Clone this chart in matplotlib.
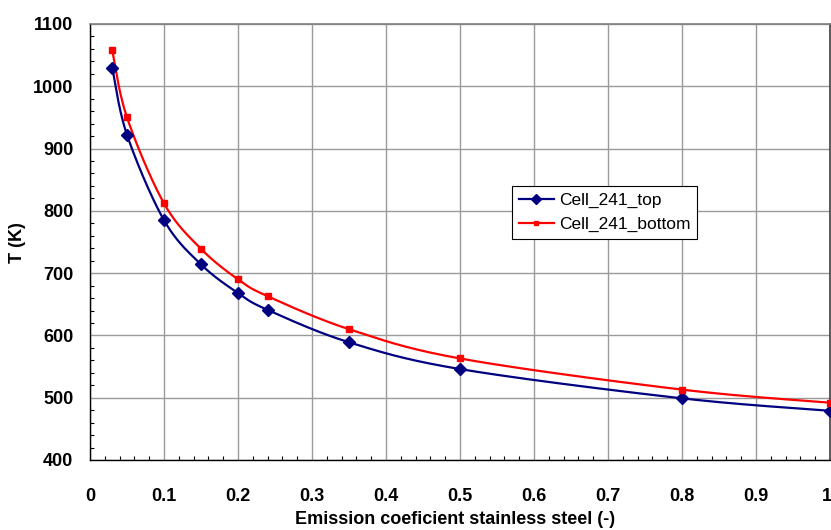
import numpy as np
import matplotlib
matplotlib.use("Agg")
import matplotlib.pyplot as plt
from matplotlib.ticker import MultipleLocator
from matplotlib.transforms import ScaledTranslation

# Emission coefficient of the stainless steel and resulting cell temperatures
emission = [0.03, 0.05, 0.10, 0.15, 0.20, 0.24, 0.35, 0.50, 0.80, 1.00]
t_top = [1030, 922, 785, 714, 668, 641, 589, 546, 499, 479]
t_bottom = [1058, 950, 812, 739, 690, 663, 610, 563, 513, 492]

series_names = ["Cell_241_top", "Cell_241_bottom"]
x_ticks = [0, 0.1, 0.2, 0.3, 0.4, 0.5, 0.6, 0.7, 0.8, 0.9, 1]
x_tick_labels = ["0", "0.1", "0.2", "0.3", "0.4", "0.5", "0.6", "0.7", "0.8", "0.9", "1"]
y_ticks = [400, 500, 600, 700, 800, 900, 1000, 1100]


def smooth(xs, ys, n=40):
    """Catmull-Rom style Bezier smoothing through every point."""
    xs = np.asarray(xs, float)
    ys = np.asarray(ys, float)
    px = np.concatenate([[xs[0]], xs, [xs[-1]]])
    py = np.concatenate([[ys[0]], ys, [ys[-1]]])
    out_x, out_y = [], []
    t = np.linspace(0, 1, n)
    for i in range(1, len(px) - 2):
        p0 = np.array([px[i], py[i]])
        p3 = np.array([px[i + 1], py[i + 1]])
        c1 = p0 + (np.array([px[i + 1], py[i + 1]]) - np.array([px[i - 1], py[i - 1]])) / 6
        c2 = p3 - (np.array([px[i + 2], py[i + 2]]) - np.array([px[i], py[i]])) / 6
        b = ((1 - t) ** 3)[:, None] * p0 + (3 * (1 - t) ** 2 * t)[:, None] * c1 \
            + (3 * (1 - t) * t ** 2)[:, None] * c2 + (t ** 3)[:, None] * p3
        out_x.extend(b[:, 0])
        out_y.extend(b[:, 1])
    return np.array(out_x), np.array(out_y)


plt.rcParams["font.family"] = ["Liberation Sans", "DejaVu Sans"]

fig = plt.figure(figsize=(8.31, 5.30), dpi=100)
fig.patch.set_facecolor("white")
ax = fig.add_axes([90 / 831, 70 / 530, 740 / 831, 436 / 530])

blue = "#000080"
red = "#FF0000"

sx, sy = smooth(emission, t_top)
ax.plot(sx, sy, color=blue, lw=1.6, clip_on=False, zorder=3)
ax.plot(emission, t_top, linestyle="none", marker="D", ms=6.5, color=blue,
        clip_on=False, zorder=4)

sx, sy = smooth(emission, t_bottom)
ax.plot(sx, sy, color=red, lw=1.6, clip_on=False, zorder=3)
ax.plot(emission, t_bottom, linestyle="none", marker="s", ms=4.5, color=red,
        clip_on=False, zorder=4)

# legend proxies
h1, = ax.plot([], [], color=blue, lw=1.6, marker="D", ms=5.5)
h2, = ax.plot([], [], color=red, lw=1.6, marker="s", ms=3.5)
leg = ax.legend([h1, h2], series_names, loc="upper left",
                bbox_to_anchor=((512 - 90) / 740, (460 - 186) / 436),
                frameon=True, fancybox=False, edgecolor="black", framealpha=1,
                fontsize=12.5, handlelength=2.0, handletextpad=0.3,
                borderpad=0.4, labelspacing=0.5, borderaxespad=0)
leg.get_frame().set_linewidth(0.8)

ax.set_xlim(0, 1)
ax.set_ylim(400, 1100)
ax.set_xticks(x_ticks)
ax.set_xticklabels(x_tick_labels)
ax.set_yticks(y_ticks)
ax.xaxis.set_minor_locator(MultipleLocator(0.02))
ax.yaxis.set_minor_locator(MultipleLocator(20))

ax.tick_params(which="major", length=0)
ax.tick_params(axis="y", which="major", pad=12)
ax.tick_params(axis="x", which="major", pad=20)
ax.tick_params(which="minor", direction="in", length=3, width=0.8, color="black")
for lab in ax.get_xticklabels() + ax.get_yticklabels():
    lab.set_fontweight("bold")
    lab.set_fontsize(13)

# keep the last x tick label inside the canvas
last = ax.get_xticklabels()[-1]
last.set_transform(last.get_transform() + ScaledTranslation(-3 / 100, 0, fig.dpi_scale_trans))

ax.grid(True, which="major", color="#9a9a9a", lw=1.0)
ax.set_axisbelow(True)

for side in ("left", "bottom"):
    ax.spines[side].set_color("black")
    ax.spines[side].set_linewidth(1.0)
ax.spines["top"].set_color("#808080")
ax.spines["top"].set_linewidth(1.2)
ax.spines["right"].set_color("#404040")
ax.spines["right"].set_linewidth(1.2)

fig.text(455 / 831, 1 - 520 / 530, "Emission coeficient stainless steel (-)",
         ha="center", va="center", fontsize=13, fontweight="bold")
fig.text(17 / 831, 1 - 243 / 530, "T (K)", ha="center", va="center",
         rotation=90, fontsize=13, fontweight="bold")

fig.savefig("out.png", dpi=100, facecolor="white")
